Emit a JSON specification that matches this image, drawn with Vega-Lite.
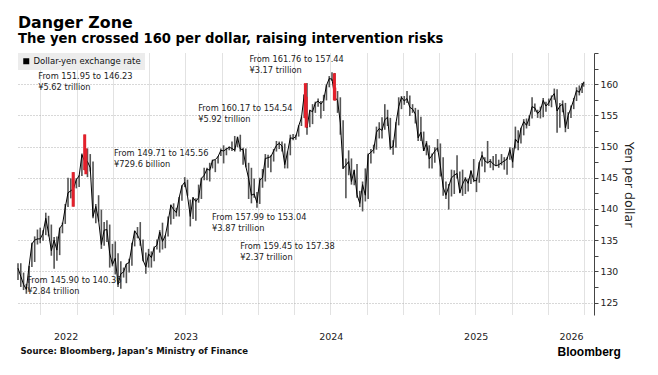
{
  "$schema": "https://vega.github.io/schema/vega-lite/v6.json",
  "width": 576,
  "height": 262,
  "autosize": {"type": "none"},
  "padding": {"left": 18, "top": 53, "right": 64, "bottom": 60},
  "background": "#ffffff",
  "title": {
    "text": "Danger Zone",
    "subtitle": "The yen crossed 160 per dollar, raising intervention risks",
    "anchor": "start",
    "frame": "group",
    "font": "DejaVu Sans",
    "fontSize": 15.8,
    "fontWeight": "bold",
    "color": "#000000",
    "subtitleFont": "DejaVu Sans",
    "subtitleFontSize": 13.2,
    "subtitleFontWeight": "bold",
    "subtitleColor": "#000000",
    "subtitlePadding": 2,
    "offset": 6
  },
  "config": {"view": {"stroke": null}, "font": "DejaVu Sans"},
  "datasets": {
    "fx": [
      {"d":"2022-05-06","lo":128.6,"hi":131.3,"c":130.5},
      {"d":"2022-05-13","lo":127.5,"hi":131.3,"c":129.2},
      {"d":"2022-05-20","lo":127.0,"hi":129.8,"c":127.9},
      {"d":"2022-05-27","lo":126.4,"hi":128.0,"c":127.1},
      {"d":"2022-06-03","lo":127.0,"hi":130.9,"c":130.9},
      {"d":"2022-06-10","lo":130.7,"hi":134.6,"c":134.4},
      {"d":"2022-06-17","lo":131.5,"hi":135.6,"c":135.0},
      {"d":"2022-06-24","lo":134.3,"hi":136.7,"c":135.2},
      {"d":"2022-07-01","lo":134.5,"hi":137.0,"c":135.2},
      {"d":"2022-07-08","lo":134.9,"hi":136.6,"c":136.1},
      {"d":"2022-07-15","lo":135.8,"hi":139.4,"c":138.5},
      {"d":"2022-07-22","lo":135.6,"hi":138.9,"c":136.1},
      {"d":"2022-07-29","lo":132.5,"hi":137.5,"c":133.3},
      {"d":"2022-08-05","lo":130.4,"hi":135.5,"c":135.0},
      {"d":"2022-08-12","lo":131.7,"hi":135.6,"c":133.4},
      {"d":"2022-08-19","lo":132.6,"hi":137.0,"c":136.9},
      {"d":"2022-08-26","lo":136.1,"hi":137.8,"c":137.5},
      {"d":"2022-09-02","lo":137.6,"hi":140.8,"c":140.2},
      {"d":"2022-09-09","lo":140.3,"hi":145.0,"c":142.6},
      {"d":"2022-09-16","lo":141.7,"hi":144.9,"c":142.9},
      {"d":"2022-09-23","lo":140.4,"hi":145.9,"c":143.3},
      {"d":"2022-09-30","lo":143.3,"hi":144.9,"c":144.7},
      {"d":"2022-10-07","lo":143.5,"hi":145.4,"c":145.3},
      {"d":"2022-10-14","lo":145.3,"hi":148.9,"c":148.7},
      {"d":"2022-10-21","lo":146.2,"hi":151.9,"c":147.6},
      {"d":"2022-10-28","lo":145.1,"hi":149.7,"c":147.6},
      {"d":"2022-11-04","lo":146.0,"hi":148.8,"c":146.6},
      {"d":"2022-11-11","lo":138.5,"hi":147.6,"c":138.8},
      {"d":"2022-11-18","lo":137.7,"hi":140.8,"c":140.4},
      {"d":"2022-11-25","lo":138.0,"hi":142.2,"c":138.2},
      {"d":"2022-12-02","lo":133.6,"hi":139.9,"c":134.3},
      {"d":"2022-12-09","lo":134.1,"hi":137.9,"c":136.6},
      {"d":"2022-12-16","lo":134.7,"hi":138.2,"c":136.7},
      {"d":"2022-12-23","lo":130.6,"hi":137.5,"c":132.9},
      {"d":"2022-12-30","lo":130.8,"hi":134.4,"c":131.1},
      {"d":"2023-01-06","lo":129.5,"hi":134.8,"c":132.1},
      {"d":"2023-01-13","lo":127.5,"hi":132.9,"c":127.9},
      {"d":"2023-01-20","lo":127.2,"hi":131.6,"c":129.6},
      {"d":"2023-01-27","lo":129.0,"hi":130.6,"c":129.9},
      {"d":"2023-02-03","lo":128.1,"hi":131.2,"c":131.2},
      {"d":"2023-02-10","lo":129.8,"hi":132.0,"c":131.4},
      {"d":"2023-02-17","lo":130.9,"hi":134.6,"c":134.1},
      {"d":"2023-02-24","lo":134.0,"hi":136.5,"c":136.5},
      {"d":"2023-03-03","lo":135.3,"hi":137.1,"c":135.8},
      {"d":"2023-03-10","lo":134.1,"hi":137.9,"c":134.9},
      {"d":"2023-03-17","lo":131.6,"hi":135.1,"c":131.8},
      {"d":"2023-03-24","lo":129.6,"hi":133.0,"c":130.7},
      {"d":"2023-03-31","lo":130.6,"hi":133.6,"c":132.8},
      {"d":"2023-04-07","lo":130.6,"hi":133.2,"c":132.2},
      {"d":"2023-04-14","lo":131.6,"hi":134.0,"c":133.8},
      {"d":"2023-04-21","lo":133.5,"hi":135.1,"c":134.2},
      {"d":"2023-04-28","lo":133.0,"hi":136.6,"c":136.3},
      {"d":"2023-05-05","lo":133.5,"hi":137.8,"c":134.8},
      {"d":"2023-05-12","lo":133.7,"hi":135.8,"c":135.7},
      {"d":"2023-05-19","lo":135.6,"hi":138.8,"c":137.9},
      {"d":"2023-05-26","lo":137.5,"hi":140.7,"c":140.6},
      {"d":"2023-06-02","lo":138.4,"hi":140.9,"c":139.9},
      {"d":"2023-06-09","lo":138.8,"hi":140.2,"c":139.4},
      {"d":"2023-06-16","lo":138.8,"hi":141.9,"c":141.8},
      {"d":"2023-06-23","lo":141.3,"hi":143.8,"c":143.7},
      {"d":"2023-06-30","lo":143.5,"hi":145.1,"c":144.3},
      {"d":"2023-07-07","lo":142.1,"hi":144.7,"c":142.1},
      {"d":"2023-07-14","lo":137.2,"hi":141.5,"c":138.8},
      {"d":"2023-07-21","lo":138.4,"hi":141.9,"c":141.8},
      {"d":"2023-07-28","lo":138.1,"hi":141.7,"c":141.2},
      {"d":"2023-08-04","lo":141.0,"hi":143.9,"c":141.8},
      {"d":"2023-08-11","lo":141.6,"hi":145.0,"c":144.9},
      {"d":"2023-08-18","lo":144.6,"hi":146.6,"c":145.4},
      {"d":"2023-08-25","lo":144.6,"hi":146.6,"c":146.4},
      {"d":"2023-09-01","lo":144.4,"hi":147.4,"c":146.2},
      {"d":"2023-09-08","lo":146.5,"hi":147.9,"c":147.8},
      {"d":"2023-09-15","lo":145.9,"hi":147.9,"c":147.9},
      {"d":"2023-09-22","lo":147.3,"hi":148.5,"c":148.4},
      {"d":"2023-09-29","lo":148.5,"hi":149.7,"c":149.4},
      {"d":"2023-10-06","lo":147.3,"hi":150.2,"c":149.3},
      {"d":"2023-10-13","lo":148.6,"hi":149.8,"c":149.6},
      {"d":"2023-10-20","lo":149.4,"hi":150.0,"c":149.9},
      {"d":"2023-10-27","lo":149.3,"hi":150.8,"c":149.7},
      {"d":"2023-11-03","lo":149.2,"hi":151.7,"c":149.4},
      {"d":"2023-11-10","lo":149.9,"hi":151.6,"c":151.5},
      {"d":"2023-11-17","lo":149.2,"hi":151.9,"c":149.6},
      {"d":"2023-11-24","lo":147.1,"hi":149.8,"c":149.5},
      {"d":"2023-12-01","lo":146.7,"hi":149.7,"c":146.8},
      {"d":"2023-12-08","lo":141.6,"hi":147.4,"c":144.9},
      {"d":"2023-12-15","lo":140.9,"hi":146.6,"c":142.2},
      {"d":"2023-12-22","lo":141.8,"hi":144.9,"c":142.4},
      {"d":"2023-12-29","lo":140.2,"hi":142.7,"c":141.0},
      {"d":"2024-01-05","lo":140.8,"hi":145.0,"c":144.6},
      {"d":"2024-01-12","lo":143.4,"hi":146.4,"c":145.0},
      {"d":"2024-01-19","lo":144.4,"hi":148.8,"c":148.1},
      {"d":"2024-01-26","lo":146.6,"hi":148.7,"c":148.2},
      {"d":"2024-02-02","lo":145.9,"hi":148.6,"c":148.4},
      {"d":"2024-02-09","lo":147.6,"hi":149.6,"c":149.3},
      {"d":"2024-02-16","lo":149.2,"hi":150.9,"c":150.2},
      {"d":"2024-02-23","lo":149.6,"hi":150.8,"c":150.5},
      {"d":"2024-03-01","lo":149.2,"hi":150.8,"c":150.1},
      {"d":"2024-03-08","lo":146.5,"hi":150.5,"c":147.1},
      {"d":"2024-03-15","lo":146.5,"hi":149.2,"c":149.1},
      {"d":"2024-03-22","lo":148.6,"hi":151.9,"c":151.4},
      {"d":"2024-03-29","lo":151.0,"hi":152.0,"c":151.3},
      {"d":"2024-04-05","lo":151.1,"hi":151.9,"c":151.6},
      {"d":"2024-04-12","lo":151.6,"hi":153.4,"c":153.3},
      {"d":"2024-04-19","lo":153.3,"hi":154.8,"c":154.6},
      {"d":"2024-04-26","lo":154.6,"hi":158.4,"c":158.3},
      {"d":"2024-05-03","lo":151.9,"hi":160.2,"c":153.0},
      {"d":"2024-05-10","lo":153.1,"hi":155.9,"c":155.8},
      {"d":"2024-05-17","lo":153.6,"hi":156.8,"c":155.6},
      {"d":"2024-05-24","lo":155.4,"hi":157.2,"c":157.0},
      {"d":"2024-05-31","lo":156.4,"hi":157.7,"c":157.3},
      {"d":"2024-06-07","lo":154.5,"hi":157.3,"c":156.8},
      {"d":"2024-06-14","lo":155.7,"hi":158.3,"c":157.4},
      {"d":"2024-06-21","lo":157.4,"hi":159.9,"c":159.8},
      {"d":"2024-06-28","lo":159.5,"hi":161.3,"c":160.9},
      {"d":"2024-07-05","lo":160.5,"hi":161.9,"c":160.8},
      {"d":"2024-07-12","lo":157.4,"hi":161.8,"c":157.9},
      {"d":"2024-07-19","lo":155.4,"hi":158.9,"c":157.4},
      {"d":"2024-07-26","lo":151.9,"hi":157.9,"c":153.8},
      {"d":"2024-08-02","lo":146.4,"hi":154.2,"c":146.5},
      {"d":"2024-08-09","lo":141.7,"hi":148.1,"c":147.0},
      {"d":"2024-08-16","lo":145.4,"hi":149.4,"c":147.6},
      {"d":"2024-08-23","lo":143.9,"hi":148.1,"c":144.4},
      {"d":"2024-08-30","lo":143.8,"hi":146.3,"c":146.2},
      {"d":"2024-09-06","lo":141.8,"hi":147.2,"c":142.3},
      {"d":"2024-09-13","lo":140.3,"hi":142.9,"c":140.9},
      {"d":"2024-09-20","lo":139.6,"hi":144.4,"c":143.9},
      {"d":"2024-09-27","lo":141.2,"hi":146.5,"c":142.2},
      {"d":"2024-10-04","lo":141.6,"hi":148.9,"c":148.7},
      {"d":"2024-10-11","lo":147.3,"hi":149.6,"c":149.1},
      {"d":"2024-10-18","lo":148.9,"hi":150.3,"c":149.5},
      {"d":"2024-10-25","lo":149.5,"hi":153.2,"c":152.3},
      {"d":"2024-11-01","lo":151.3,"hi":153.9,"c":152.9},
      {"d":"2024-11-08","lo":151.3,"hi":154.7,"c":152.6},
      {"d":"2024-11-15","lo":152.7,"hi":156.8,"c":154.3},
      {"d":"2024-11-22","lo":153.3,"hi":155.9,"c":154.7},
      {"d":"2024-11-29","lo":149.5,"hi":154.6,"c":149.8},
      {"d":"2024-12-06","lo":148.7,"hi":151.0,"c":150.0},
      {"d":"2024-12-13","lo":149.8,"hi":153.9,"c":153.7},
      {"d":"2024-12-20","lo":153.4,"hi":157.9,"c":156.4},
      {"d":"2024-12-27","lo":156.0,"hi":158.1,"c":157.9},
      {"d":"2025-01-03","lo":156.7,"hi":158.1,"c":157.3},
      {"d":"2025-01-10","lo":157.0,"hi":158.9,"c":157.7},
      {"d":"2025-01-17","lo":154.9,"hi":158.2,"c":156.3},
      {"d":"2025-01-24","lo":155.4,"hi":156.8,"c":156.0},
      {"d":"2025-01-31","lo":153.7,"hi":156.2,"c":155.2},
      {"d":"2025-02-07","lo":150.9,"hi":155.9,"c":151.4},
      {"d":"2025-02-14","lo":150.9,"hi":154.8,"c":152.3},
      {"d":"2025-02-21","lo":149.3,"hi":152.4,"c":149.3},
      {"d":"2025-02-28","lo":148.6,"hi":150.9,"c":150.6},
      {"d":"2025-03-07","lo":146.5,"hi":150.2,"c":148.0},
      {"d":"2025-03-14","lo":146.5,"hi":148.9,"c":148.6},
      {"d":"2025-03-21","lo":147.4,"hi":149.9,"c":149.3},
      {"d":"2025-03-28","lo":149.2,"hi":151.2,"c":149.8},
      {"d":"2025-04-04","lo":145.2,"hi":150.5,"c":146.9},
      {"d":"2025-04-11","lo":142.1,"hi":148.3,"c":143.5},
      {"d":"2025-04-18","lo":141.6,"hi":144.4,"c":142.2},
      {"d":"2025-04-25","lo":139.9,"hi":144.0,"c":143.6},
      {"d":"2025-05-02","lo":142.0,"hi":146.3,"c":145.0},
      {"d":"2025-05-09","lo":142.4,"hi":146.2,"c":145.4},
      {"d":"2025-05-16","lo":144.9,"hi":148.6,"c":145.7},
      {"d":"2025-05-23","lo":142.5,"hi":146.0,"c":142.6},
      {"d":"2025-05-30","lo":142.1,"hi":146.3,"c":144.0},
      {"d":"2025-06-06","lo":142.4,"hi":145.1,"c":144.9},
      {"d":"2025-06-13","lo":142.8,"hi":144.9,"c":144.1},
      {"d":"2025-06-20","lo":144.0,"hi":146.2,"c":146.1},
      {"d":"2025-06-27","lo":144.3,"hi":148.0,"c":144.6},
      {"d":"2025-07-04","lo":142.7,"hi":145.0,"c":144.5},
      {"d":"2025-07-11","lo":144.2,"hi":147.5,"c":147.4},
      {"d":"2025-07-18","lo":146.8,"hi":149.2,"c":148.6},
      {"d":"2025-07-25","lo":145.9,"hi":148.3,"c":147.7},
      {"d":"2025-08-01","lo":147.3,"hi":150.9,"c":147.4},
      {"d":"2025-08-08","lo":146.6,"hi":148.0,"c":147.7},
      {"d":"2025-08-15","lo":146.2,"hi":148.5,"c":147.2},
      {"d":"2025-08-22","lo":146.9,"hi":148.8,"c":146.9},
      {"d":"2025-08-29","lo":146.6,"hi":147.9,"c":147.1},
      {"d":"2025-09-05","lo":147.0,"hi":148.8,"c":147.4},
      {"d":"2025-09-12","lo":146.3,"hi":148.3,"c":147.7},
      {"d":"2025-09-19","lo":145.5,"hi":148.3,"c":148.0},
      {"d":"2025-09-26","lo":147.9,"hi":149.9,"c":149.5},
      {"d":"2025-10-03","lo":146.6,"hi":149.8,"c":147.5},
      {"d":"2025-10-10","lo":149.7,"hi":153.2,"c":151.2},
      {"d":"2025-10-17","lo":149.4,"hi":152.6,"c":150.6},
      {"d":"2025-10-24","lo":150.5,"hi":153.0,"c":152.9},
      {"d":"2025-10-31","lo":151.8,"hi":154.4,"c":154.0},
      {"d":"2025-11-07","lo":152.9,"hi":154.5,"c":153.4},
      {"d":"2025-11-14","lo":153.3,"hi":155.0,"c":154.6},
      {"d":"2025-11-21","lo":154.5,"hi":157.9,"c":156.4},
      {"d":"2025-11-28","lo":155.6,"hi":156.9,"c":156.2},
      {"d":"2025-12-05","lo":154.6,"hi":155.9,"c":155.3},
      {"d":"2025-12-12","lo":154.5,"hi":156.4,"c":155.8},
      {"d":"2025-12-19","lo":154.7,"hi":157.8,"c":157.4},
      {"d":"2025-12-26","lo":155.6,"hi":157.2,"c":156.5},
      {"d":"2026-01-02","lo":156.5,"hi":157.7,"c":157.0},
      {"d":"2026-01-09","lo":156.3,"hi":158.2,"c":157.9},
      {"d":"2026-01-16","lo":157.5,"hi":159.3,"c":158.5},
      {"d":"2026-01-23","lo":152.2,"hi":159.2,"c":155.7},
      {"d":"2026-01-30","lo":153.0,"hi":157.0,"c":156.5},
      {"d":"2026-02-06","lo":155.5,"hi":157.4,"c":156.8},
      {"d":"2026-02-13","lo":152.3,"hi":157.0,"c":153.0},
      {"d":"2026-02-20","lo":152.8,"hi":155.5,"c":155.0},
      {"d":"2026-02-27","lo":154.6,"hi":156.6,"c":156.2},
      {"d":"2026-03-06","lo":156.0,"hi":157.8,"c":157.5},
      {"d":"2026-03-13","lo":157.3,"hi":159.5,"c":159.0},
      {"d":"2026-03-20","lo":158.2,"hi":159.8,"c":158.7},
      {"d":"2026-03-27","lo":158.6,"hi":160.2,"c":159.8},
      {"d":"2026-03-31","lo":159.6,"hi":160.4,"c":160.3}
    ],
    "red": [
      {"d":"2022-09-22","lo":140.36,"hi":145.9},
      {"d":"2022-10-21","lo":146.23,"hi":151.95},
      {"d":"2022-10-24","lo":145.56,"hi":149.71},
      {"d":"2024-04-29","lo":154.54,"hi":160.17},
      {"d":"2024-05-01","lo":153.04,"hi":157.99},
      {"d":"2024-07-11","lo":157.44,"hi":161.76},
      {"d":"2024-07-12","lo":157.38,"hi":159.45}
    ],
    "notes": [
      {"d":"2022-06-26","v":160.8,"t":"From 151.95 to 146.23\n¥5.62 trillion"},
      {"d":"2023-01-03","v":148.5,"t":"From 149.71 to 145.56\n¥729.6 billion"},
      {"d":"2022-05-29","v":128.2,"t":"From 145.90 to 140.36\n¥2.84 trillion"},
      {"d":"2023-08-03","v":155.7,"t":"From 160.17 to 154.54\n¥5.92 trillion"},
      {"d":"2023-12-10","v":163.5,"t":"From 161.76 to 157.44\n¥3.17 trillion"},
      {"d":"2023-09-07","v":138.3,"t":"From 157.99 to 153.04\n¥3.87 trillion"},
      {"d":"2023-11-17","v":133.6,"t":"From 159.45 to 157.38\n¥2.37 trillion"}
    ]
  },
  "layer": [
    {
      "data": {"name": "fx"},
      "mark": {"type": "rule", "color": "#555555", "strokeWidth": 1.6},
      "encoding": {
        "x": {
          "field": "d", "type": "temporal",
          "scale": {"domain": [{"year": 2022, "month": 5, "date": 6}, {"year": 2026, "month": 4, "date": 26}]},
          "axis": {
            "orient": "bottom",
            "values": [
              {"year": 2022, "month": 7, "date": 1}, {"year": 2022, "month": 10, "date": 1},
              {"year": 2023, "month": 1, "date": 1}, {"year": 2023, "month": 4, "date": 1},
              {"year": 2023, "month": 7, "date": 1}, {"year": 2023, "month": 10, "date": 1},
              {"year": 2024, "month": 1, "date": 1}, {"year": 2024, "month": 4, "date": 1},
              {"year": 2024, "month": 7, "date": 1}, {"year": 2024, "month": 10, "date": 1},
              {"year": 2025, "month": 1, "date": 1}, {"year": 2025, "month": 4, "date": 1},
              {"year": 2025, "month": 7, "date": 1}, {"year": 2025, "month": 10, "date": 1},
              {"year": 2026, "month": 1, "date": 1}, {"year": 2026, "month": 4, "date": 1}
            ],
            "grid": true, "gridColor": "#c4c4c4", "gridDash": [1, 1], "gridWidth": 1,
            "labels": false, "ticks": false, "domain": false,
            "title": "Source: Bloomberg, Japan’s Ministry of Finance",
            "titleFont": "DejaVu Sans", "titleFontSize": 8.5, "titleFontWeight": "bold", "titleColor": "#111111",
            "titleAlign": "left", "titleBaseline": "middle", "titleX": 2, "titleY": 35
          }
        },
        "y": {
          "field": "lo", "type": "quantitative",
          "scale": {"domain": [123, 165], "nice": false, "zero": false},
          "axis": {
            "orient": "left",
            "values": [125, 130, 135, 140, 145, 150, 155, 160],
            "grid": true, "gridColor": "#b0b0b0", "gridDash": [1, 2], "gridWidth": 1,
            "labels": false, "ticks": false, "domain": false, "title": null
          }
        },
        "y2": {"field": "hi"}
      }
    },
    {
      "data": {"name": "fx"},
      "mark": {"type": "line", "strokeWidth": 1},
      "encoding": {
        "x": {
          "field": "d", "type": "temporal",
          "axis": {
            "orient": "bottom",
            "values": [
              {"year": 2022, "month": 9, "date": 3}, {"year": 2023, "month": 7, "date": 2},
              {"year": 2024, "month": 7, "date": 2}, {"year": 2025, "month": 7, "date": 2},
              {"year": 2026, "month": 2, "date": 27}
            ],
            "labelExpr": "timeFormat(datum.value, '%Y')",
            "grid": false, "ticks": false, "domain": false,
            "labelFont": "DejaVu Sans", "labelFontSize": 9.5, "labelColor": "#222222",
            "labelPadding": 16, "labelFlush": false, "labelOverlap": false,
            "title": "Bloomberg",
            "titleFont": "Liberation Sans", "titleFontSize": 12, "titleFontWeight": "bold", "titleColor": "#000000",
            "titleAlign": "left", "titleBaseline": "middle", "titleX": 539, "titleY": 36
          }
        },
        "y": {
          "field": "c", "type": "quantitative",
          "axis": {
            "orient": "right",
            "values": [125, 127.5, 130, 132.5, 135, 137.5, 140, 142.5, 145, 147.5, 150, 152.5, 155, 157.5, 160, 162.5, 165],
            "labelExpr": "datum.value % 5 == 0 && datum.value <= 160 ? datum.value : ''",
            "grid": false, "domain": true, "domainColor": "#444444", "tickColor": "#444444", "tickSize": 4,
            "labelFont": "DejaVu Sans", "labelFontSize": 9.3, "labelColor": "#222222", "labelPadding": 2,
            "title": "Yen per dollar", "titleFont": "DejaVu Sans", "titleFontSize": 12.5, "titleFontWeight": "normal",
            "titleColor": "#222222", "titleAngle": 90, "titleBaseline": "middle", "titleAlign": "center",
            "titleX": 34, "titleY": 131
          }
        },
        "color": {
          "datum": "Dollar-yen exchange rate",
          "scale": {"range": ["#000000"]},
          "legend": {
            "title": null, "orient": "top-left", "offset": 0, "padding": 4,
            "fillColor": "#ececec", "symbolType": "square", "symbolSize": 36,
            "labelFont": "DejaVu Sans", "labelFontSize": 8.5, "labelColor": "#111111", "labelOffset": 3,
            "encode": {"symbols": {"update": {"fill": {"value": "#000000"}, "stroke": {"value": "#000000"}, "strokeWidth": {"value": 0}}}}
          }
        }
      }
    },
    {
      "data": {"name": "red"},
      "mark": {"type": "rule", "color": "#e3202b", "strokeWidth": 3},
      "encoding": {
        "x": {"field": "d", "type": "temporal", "axis": null},
        "y": {"field": "lo", "type": "quantitative", "axis": null},
        "y2": {"field": "hi"}
      }
    },
    {
      "data": {"name": "notes"},
      "mark": {"type": "text", "align": "left", "baseline": "alphabetic", "lineBreak": "\n", "font": "DejaVu Sans", "fontSize": 8.25, "lineHeight": 11, "color": "#222222"},
      "encoding": {
        "x": {"field": "d", "type": "temporal", "axis": null},
        "y": {"field": "v", "type": "quantitative", "axis": null},
        "text": {"field": "t"}
      }
    }
  ],
  "resolve": {"axis": {"x": "independent", "y": "independent"}}
}
